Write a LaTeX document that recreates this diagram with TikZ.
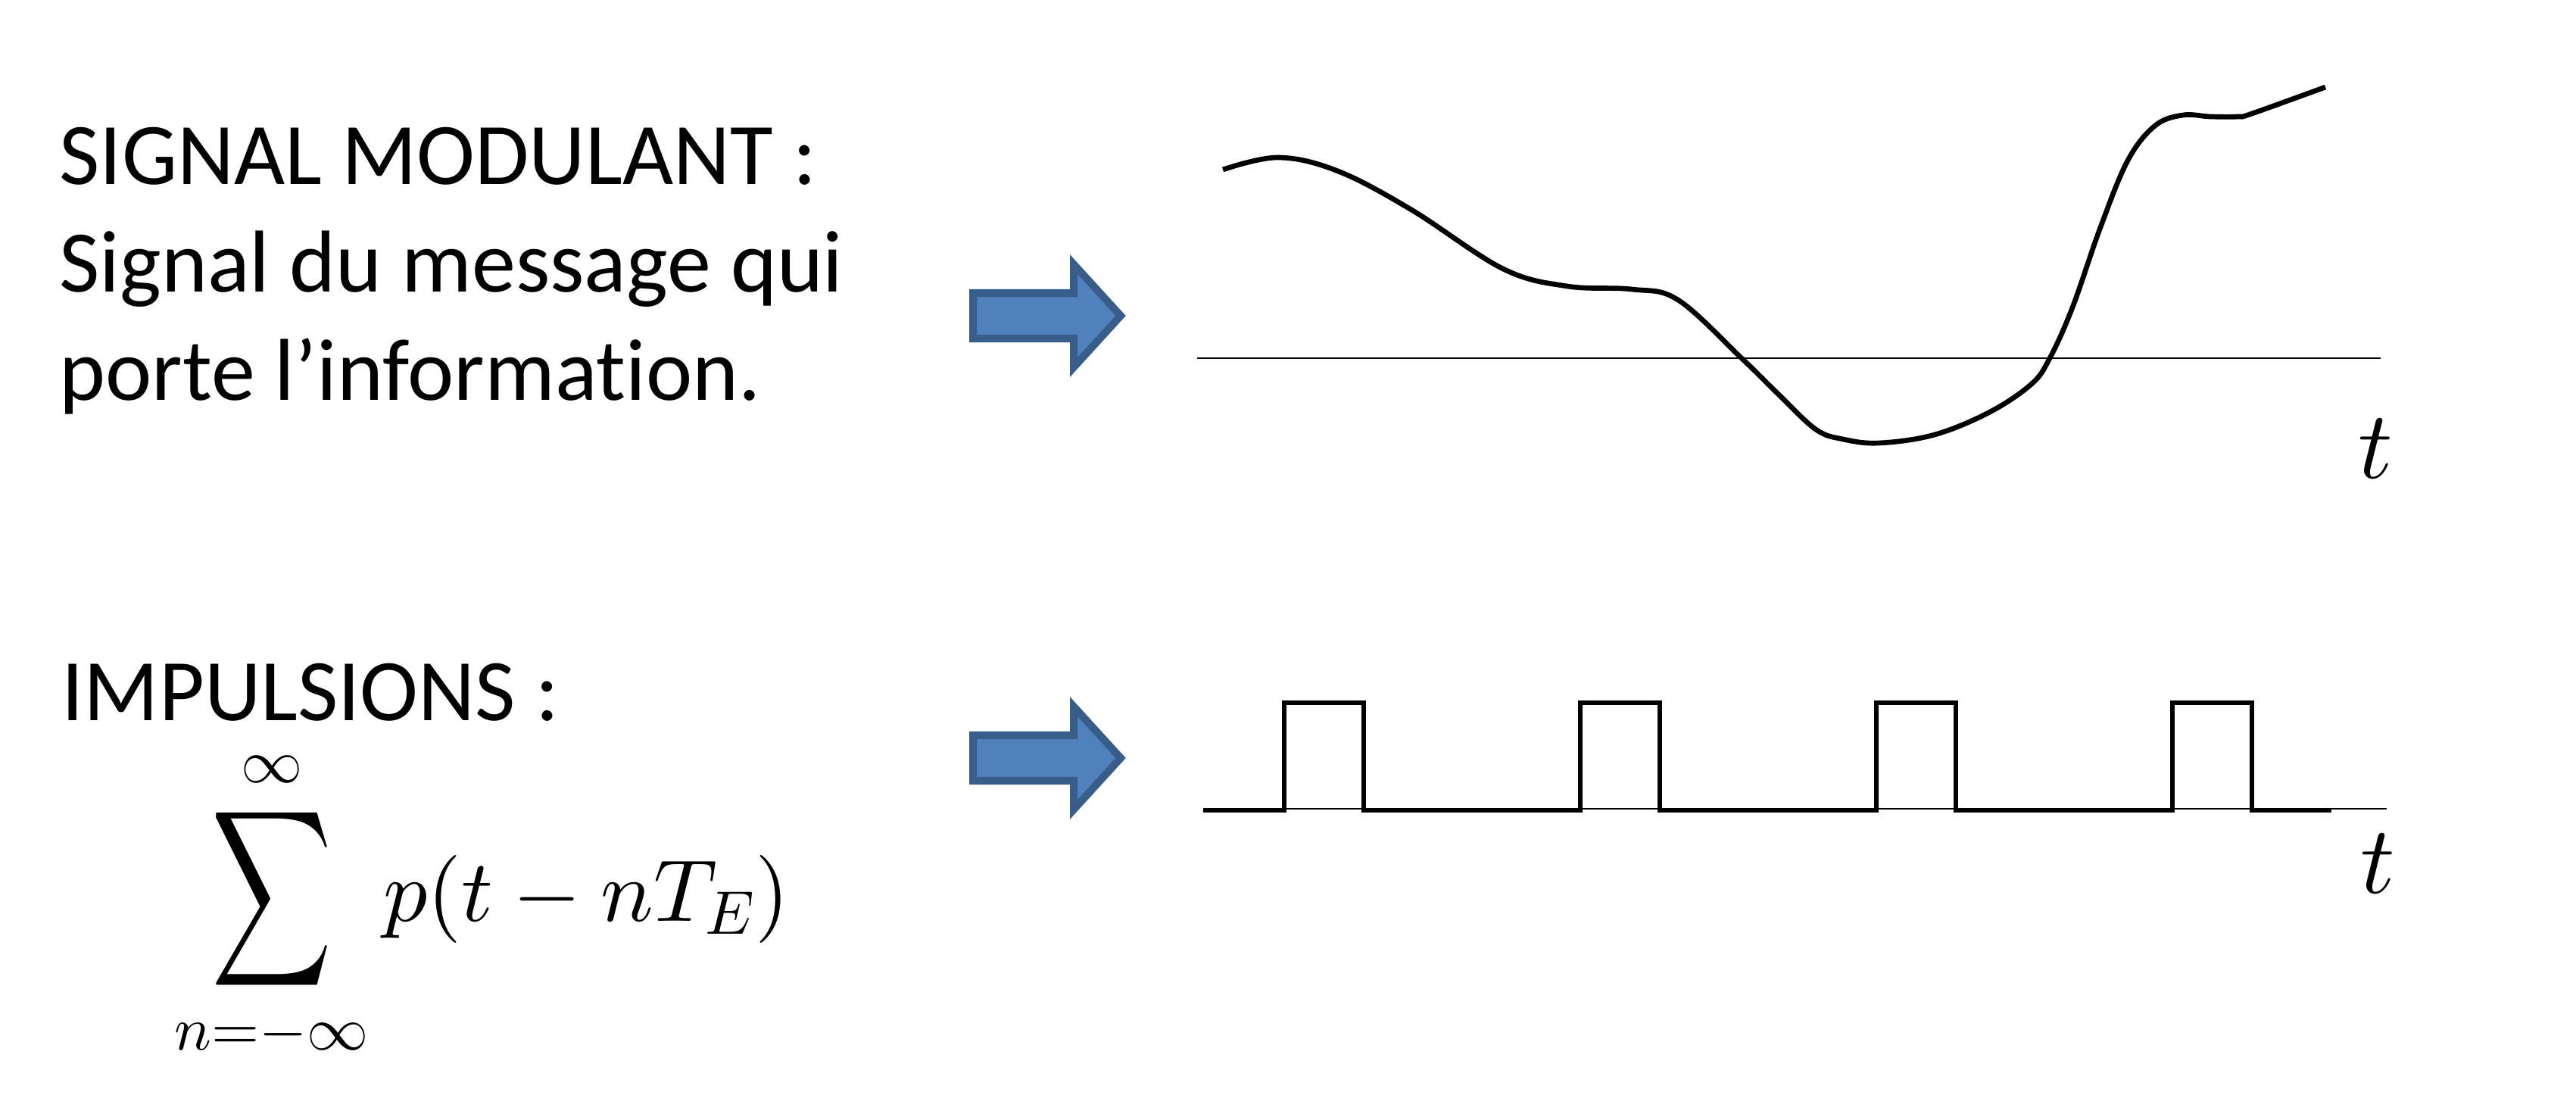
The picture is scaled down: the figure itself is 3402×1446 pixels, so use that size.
\documentclass[tikz,border=0pt]{standalone}
\usepackage[no-math]{fontspec}
\setmainfont{Carlito}[Ligatures=NoCommon]
\usepackage{graphicx}
\usepackage{tikz}
\DeclareFontShape{OML}{cmm}{m}{it}{<-> cmmi10}{}
\DeclareFontShape{OMS}{cmsy}{m}{n}{<-> cmsy10}{}
\DeclareFontShape{OMX}{cmex}{m}{n}{<-> cmex10}{}
\DeclareFontShape{OT1}{cmr}{m}{n}{<-> cmr10}{}
\definecolor{flecheFond}{HTML}{4F81BD}
\definecolor{flecheBord}{HTML}{385D8A}
\begin{document}
\begin{tikzpicture}[x=0.01cm, y=-0.01cm,
      texte/.style={font=\fontsize{33pt}{40.4pt}\selectfont, inner sep=0pt, align=left, anchor=base west},
      formule/.style={font=\fontsize{33pt}{38pt}\selectfont, inner sep=0pt, anchor=base west},
      temps/.style={font=\fontsize{36pt}{40pt}\selectfont, inner sep=0pt, anchor=base},
      axe/.style={line width=0.5pt},
      signal/.style={line width=1.9pt},
      impulsion/.style={line width=1.7pt, line join=miter},
      fleche/.pic={\draw[line width=2.85pt, draw=flecheBord, fill=flecheFond, line join=miter]
        (0,-30) -- (133,-30) -- (133,-68) -- (195,0) -- (133,68) -- (133,30) -- (0,30) -- cycle;}]
  \useasboundingbox (0,0) rectangle (3402,1446);
  % textes
  \node[texte] (modulant) at (78,528) {SIGNAL MODULANT :\\Signal du message qui\\porte l’information.};
  \node[texte] (impulsions) at (81,951) {IMPULSIONS :};
  \node[formule] (somme) at (230,1216)
    {$\displaystyle\mathop{\vcenter{\hbox{\scalebox{0.95}[1.4]{$\displaystyle\sum$}}}}\limits_{n=-\infty}^{\infty} p(t-nT_E)$};
  % fleches
  \pic at (1285,417) {fleche};
  \pic at (1285,1001) {fleche};
  % signal modulant
  \draw[axe] (1581,473) -- (3144,473);
  \draw[signal] plot[smooth, tension=0.6] coordinates {(1615,224) (1688,208) (1767,226) (1864,277)
    (1985,355) (2070,378) (2155,382) (2216,396) (2300,473) (2349,521) (2398,567) (2434,580)
    (2482,585) (2555,574) (2628,544) (2683,507) (2707,473) (2737,406) (2774,300) (2810,212)
    (2846,166) (2883,152) (2919,154) (2956,154) (2974,150) (3071,115)};
  \node[temps] (t1) at (3137,632) {$t$};
  % impulsions
  \draw[axe] (1589,1068) -- (3152,1068);
  \draw[impulsion] (1589,1070) foreach \k in {0,...,3} { -- ({1696+391*\k},1070) -- ++(0,-142) -- ++(105,0) -- ++(0,142) } -- (3079,1070);
  \node[temps] (t2) at (3140,1179) {$t$};
\end{tikzpicture}
\end{document}
